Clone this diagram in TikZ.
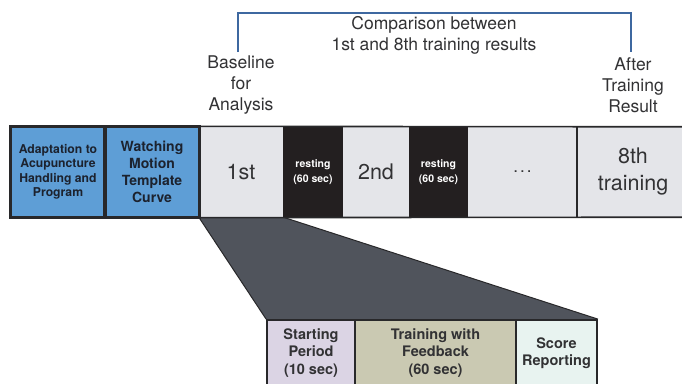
\documentclass[tikz,border=0pt]{standalone}
\usepackage{fontspec}
\usetikzlibrary{backgrounds}
\setmainfont{TeX Gyre Heros}
\definecolor{bluebox}{RGB}{94,158,214}
\definecolor{lightbox}{RGB}{228,229,233}
\definecolor{blackbox}{RGB}{35,31,32}
\definecolor{trapfill}{RGB}{80,84,92}
\definecolor{startfill}{RGB}{219,212,228}
\definecolor{trainfill}{RGB}{202,201,178}
\definecolor{scorefill}{RGB}{232,243,240}
\definecolor{bracketblue}{RGB}{62,104,160}
\definecolor{edge}{RGB}{40,40,42}
\definecolor{txt}{RGB}{50,50,52}
\definecolor{bluetxt}{RGB}{28,34,46}
\begin{document}
\begin{tikzpicture}[x=1pt,y=-1pt,
  cell/.style={inner sep=0pt, minimum height=90pt, align=center, text=txt},
  bluecell/.style={cell, fill=bluebox, draw=edge, line width=1.6pt, text=bluetxt},
  greycell/.style={cell, fill=lightbox, font=\fontsize{21.5}{27}\selectfont},
  restcell/.style={cell, fill=blackbox, text=white, font=\bfseries\fontsize{10.5}{15}\selectfont},
  lowcell/.style={inner sep=0pt, minimum height=66pt, align=center, text=txt, draw=edge, line width=1.8pt,
                  font=\bfseries\fontsize{14.5}{17.5}\selectfont},
  toplabel/.style={inner sep=0pt, align=center, text=txt, font=\fontsize{17.5}{21}\selectfont},
  bracket/.style={draw=bracketblue, line width=1.8pt}]
\useasboundingbox (0,0) rectangle (682,383);
\clip (0,0) rectangle (682,383);

% top row
\node[bluecell, minimum width=94pt, font=\bfseries\fontsize{12.2}{14.5}\selectfont] (adapt) at (58,172)
  {Adaptation to\\Acupuncture\\Handling and\\Program};
\node[bluecell, minimum width=94pt, font=\bfseries\fontsize{14}{17}\selectfont] (watch) at (152,172)
  {Watching\\Motion\\Template\\Curve};
\node[greycell, minimum width=84pt] (first) at (241,172) {1st};
\node[restcell, minimum width=60pt] (rest1) at (313,172) {resting\\(60 sec)};
\node[greycell, minimum width=66pt] (second) at (376,172) {2nd};
\node[restcell, minimum width=59pt] (rest2) at (438.5,172) {resting\\(60 sec)};
\node[greycell, minimum width=109pt, font=\fontsize{17}{20}\selectfont] (dots) at (522.5,172) {.\kern2pt.\kern2pt.};
\node[greycell, minimum width=112pt] (eighth) at (633,172) {8th\\training};

% outline of the row
\draw[edge, line width=1.6pt] (adapt.north west) -- (eighth.north east);
\draw[edge, line width=1.6pt] (adapt.south west) -- (eighth.south east);
\draw[edge, line width=1.6pt] (dots.north east) -- (dots.south east);
\draw[edge, line width=1.6pt] (adapt.north west) rectangle (adapt.south east);
\draw[edge, line width=1.6pt] (watch.north west) rectangle (watch.south east);

% bottom row
\node[lowcell, fill=startfill, minimum width=88pt] (start) at (311,353) {Starting\\Period\\(10 sec)};
\node[lowcell, fill=trainfill, minimum width=161pt] (train) at (435.5,353) {Training with\\Feedback\\(60 sec)};
\node[lowcell, fill=scorefill, minimum width=81pt] (score) at (556.5,353) {Score\\Reporting};

% zoom trapezoid, behind the boxes
\begin{scope}[on background layer]
\fill[white] (0,0) rectangle (682,383);
\fill[trapfill] (first.south west) -- (first.south east) -- (score.north east) -- (start.north west) -- cycle;
\draw[edge, line width=1pt] (first.south east) -- (score.north east);
\draw[edge, line width=1pt] (first.south west) -- (start.north west);
\end{scope}

% labels above
\node[toplabel] (base) at (241,85) {Baseline\\for\\Analysis};
\node[toplabel] (after) at (633,85) {After\\Training\\Result};
\node[toplabel] (comp) at (434,35.5) {Comparison between\\1st and 8th training results};

% bracket
\coordinate (bl) at (238,52);
\coordinate (bt) at (238,13);
\coordinate (br) at (631,52);
\draw[bracket] (bl) -- (bt) -| (br);
\end{tikzpicture}
\end{document}
